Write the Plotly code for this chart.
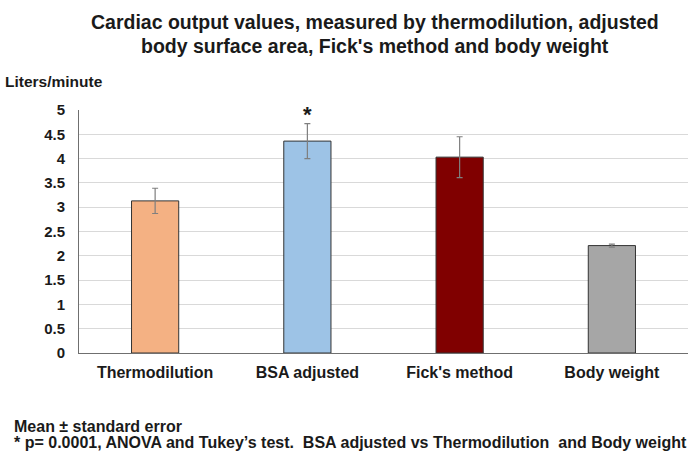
import plotly.graph_objects as go

# data
categories = ["Thermodilution", "BSA adjusted", "Fick's method", "Body weight"]
means = [3.13, 4.36, 4.03, 2.21]
std_errors = [0.26, 0.36, 0.42, 0.03]
bar_colors = ["#F4B183", "#9DC3E6", "#800000", "#A6A6A6"]
y_ticks = [0, 0.5, 1, 1.5, 2, 2.5, 3, 3.5, 4, 4.5, 5]
y_tick_text = ["0", "0.5", "1", "1.5", "2", "2.5", "3", "3.5", "4", "4.5", "5"]
significant = "BSA adjusted"
title_lines = [
    "Cardiac output values, measured by thermodilution, adjusted",
    "body surface area, Fick's method and body weight",
]
footnote_lines = [
    "Mean \u00b1 standard error",
    "* p= 0.0001, ANOVA and Tukey\u2019s test.\u00a0 BSA adjusted vs "
    "Thermodilution\u00a0 and Body weight",
]

FONT = "Arial, Liberation Sans, sans-serif"
INK = "#1a1a1a"

W, H = 700, 468
M = {"l": 79, "r": 12, "t": 110, "b": 115}
plot_w = W - M["l"] - M["r"]
plot_h = H - M["t"] - M["b"]


def px_to_paper(px, py):
    """window pixel -> paper coords"""
    return (px - M["l"]) / plot_w, (H - M["b"] - py) / plot_h


def add_text(text, px, py, size, xanchor="left"):
    x, y = px_to_paper(px, py)
    fig.add_annotation(
        x=x, y=y, xref="paper", yref="paper", text=text,
        showarrow=False, xanchor=xanchor, yanchor="bottom", align="left",
        font={"family": FONT, "size": size, "color": INK, "weight": "bold"},
    )


fig = go.Figure(go.Bar(
    x=categories,
    y=means,
    width=0.31,
    marker={"color": bar_colors, "line": {"color": "#333333", "width": 1}},
    error_y={"type": "data", "array": std_errors, "visible": True,
             "color": "#7f7f7f", "thickness": 1.2, "width": 3},
    showlegend=False,
    hoverinfo="x+y",
))

i = categories.index(significant)
fig.add_annotation(
    x=significant, y=means[i] + std_errors[i], xref="x", yref="y",
    text="*", showarrow=False, yanchor="bottom", yshift=-5,
    font={"family": FONT, "size": 22, "color": INK, "weight": "bold"},
)

for line, bottom in zip(title_lines, [35, 59]):
    add_text(line, 375, bottom, 19.5, xanchor="center")

add_text("Liters/minute", 3, 92, 15.5)

for line, bottom in zip(footnote_lines, [437, 453]):
    add_text(line, 12, bottom, 16)

fig.update_layout(
    width=W, height=H,
    paper_bgcolor="white", plot_bgcolor="white",
    margin=M,
    font={"family": FONT, "color": INK},
    xaxis={
        "showgrid": False, "showline": True, "linecolor": "#6f6f6f", "linewidth": 1,
        "ticks": "", "ticklabelstandoff": 5,
        "tickfont": {"family": FONT, "size": 16, "color": INK, "weight": "bold"},
    },
    yaxis={
        "range": [0, 5], "tickvals": y_ticks, "ticktext": y_tick_text,
        "showgrid": True, "gridcolor": "#d9d9d9", "gridwidth": 1,
        "showline": True, "linecolor": "#6f6f6f", "linewidth": 1,
        "zeroline": False, "ticks": "", "ticklabelstandoff": 10,
        "tickfont": {"family": FONT, "size": 15, "color": INK, "weight": "bold"},
    },
)

# drop the browser's default 8px body margin so the figure fills the window
fig.write_html(
    "out.html",
    config={"displayModeBar": False},
    post_script="document.body.style.margin = '0';",
)
